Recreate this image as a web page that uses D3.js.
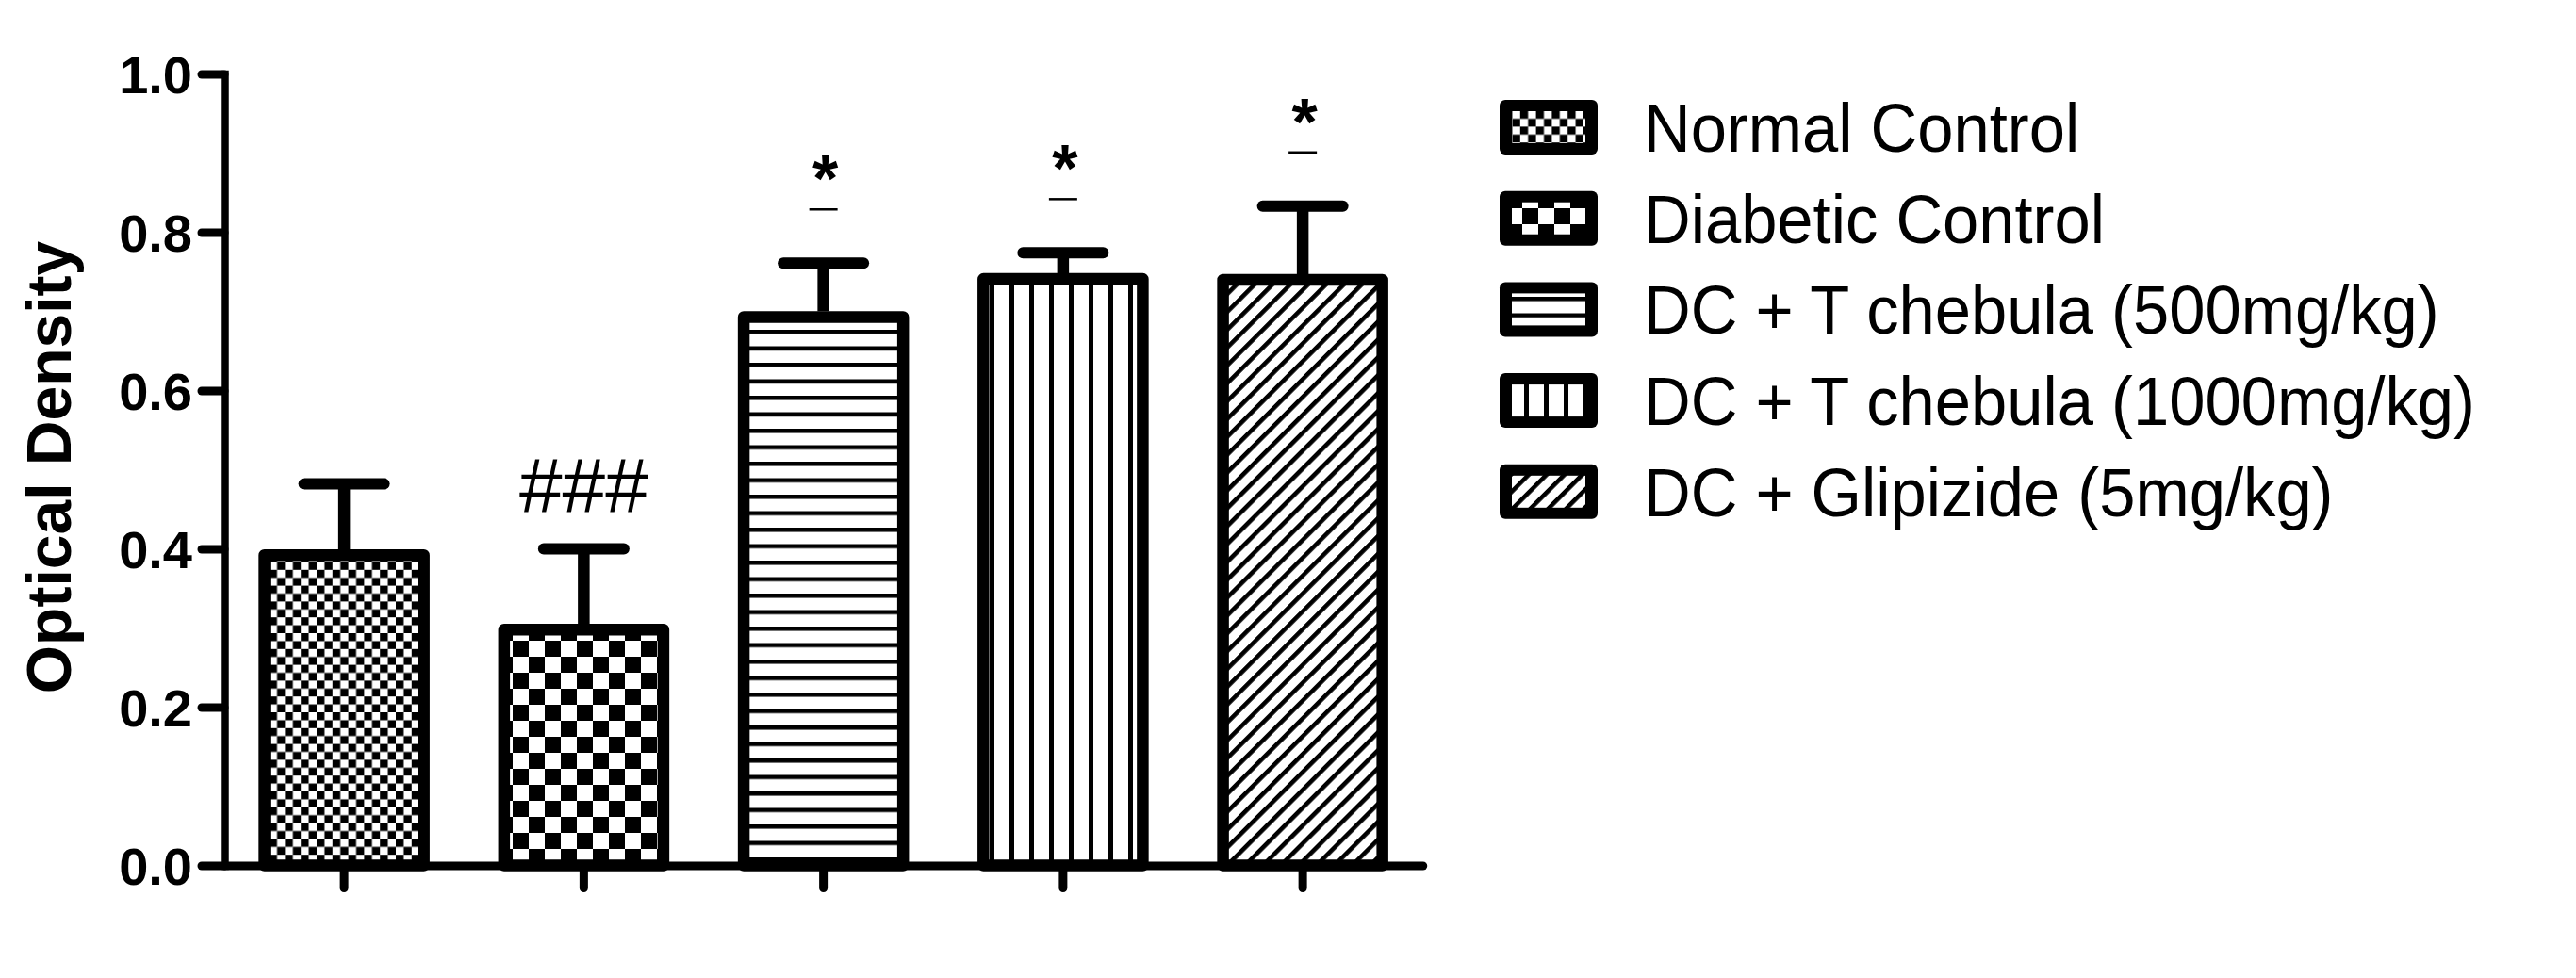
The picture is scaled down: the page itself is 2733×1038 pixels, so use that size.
<!DOCTYPE html>
<html><head><meta charset="utf-8">
<script src="https://cdn.jsdelivr.net/npm/d3@7/dist/d3.min.js"></script>
<style>html,body{margin:0;padding:0;background:#fff;} svg{display:block;}</style>
</head><body>
<svg id="chart" width="2733" height="1038"></svg>
<script>
const categories = ["Normal Control", "Diabetic Control", "DC + T chebula (500mg/kg)", "DC + T chebula (1000mg/kg)", "DC + Glipizide (5mg/kg)"];
const means = [0.392, 0.298, 0.693, 0.741, 0.740];
const errors = [0.090, 0.102, 0.068, 0.033, 0.093];
const significance = ["", "###", "*", "*", "*"];
const yTicks = [0.0, 0.2, 0.4, 0.6, 0.8, 1.0];
const yTitle = "Optical Density";
const patternIds = ["pSmallCheck", "pBigCheck", "pHoriz", "pVert", "pDiag"];

const svg = d3.select("#chart");
svg.append("rect").attr("width", 2733).attr("height", 1038).attr("fill", "#fff");
const font = "'Liberation Sans', Arial, Helvetica, sans-serif";

// patterns
const defs = svg.append("defs");
function pat(id, w, h, draw, transform) {
  const p = defs.append("pattern").attr("id", id).attr("patternUnits", "userSpaceOnUse")
    .attr("width", w).attr("height", h);
  if (transform) p.attr("patternTransform", transform);
  p.append("rect").attr("width", w).attr("height", h).attr("fill", "#fff");
  draw(p);
}
const cs = 8.4;
pat("pSmallCheck", 2 * cs, 2 * cs, p => {
  p.append("rect").attr("x", 0).attr("y", 0).attr("width", cs).attr("height", cs).attr("fill", "#000");
  p.append("rect").attr("x", cs).attr("y", cs).attr("width", cs).attr("height", cs).attr("fill", "#000");
});
const cb = 17;
pat("pBigCheck", 2 * cb, 2 * cb, p => {
  p.append("rect").attr("x", 0).attr("y", 0).attr("width", cb).attr("height", cb).attr("fill", "#000");
  p.append("rect").attr("x", cb).attr("y", cb).attr("width", cb).attr("height", cb).attr("fill", "#000");
});
pat("pHoriz", 10, 17.5, p => {
  p.append("rect").attr("x", 0).attr("y", 0).attr("width", 10).attr("height", 4.5).attr("fill", "#000");
});
pat("pVert", 21, 10, p => {
  p.append("rect").attr("x", 0).attr("y", 0).attr("width", 5).attr("height", 10).attr("fill", "#000");
});
pat("pDiag", 13.4, 10, p => {
  p.append("rect").attr("x", 0).attr("y", 0).attr("width", 4.6).attr("height", 10).attr("fill", "#000");
}, "rotate(45)");

// scales
const x = d3.scaleBand().domain(categories).range([238, 1509.25]).paddingInner(0.335).paddingOuter(0.1675);
const y = d3.scaleLinear().domain([0, 1]).range([918.5, 78.5]);

// bars
const g = svg.append("g");
const bars = g.selectAll(".bar").data(categories).join("g");
bars.append("rect")
  .attr("x", d => x(d)).attr("y", (d, i) => y(means[i]))
  .attr("width", x.bandwidth()).attr("height", (d, i) => y(0) - y(means[i]))
  .attr("fill", (d, i) => `url(#${patternIds[i]})`)
  .attr("stroke", "#000").attr("stroke-width", 12.5).attr("stroke-linejoin", "round");
// error bars
bars.append("line")
  .attr("x1", d => x(d) + x.bandwidth() / 2).attr("x2", d => x(d) + x.bandwidth() / 2)
  .attr("y1", (d, i) => y(means[i]) - 6).attr("y2", (d, i) => y(means[i] + errors[i]))
  .attr("stroke", "#000").attr("stroke-width", 12.5);
bars.append("line")
  .attr("x1", d => x(d) + x.bandwidth() / 2 - 42.5).attr("x2", d => x(d) + x.bandwidth() / 2 + 42.5)
  .attr("y1", (d, i) => y(means[i] + errors[i])).attr("y2", (d, i) => y(means[i] + errors[i]))
  .attr("stroke", "#000").attr("stroke-width", 12).attr("stroke-linecap", "round");

// significance marks
categories.forEach((c, i) => {
  const s = significance[i];
  if (!s) return;
  const cx = x(c) + x.bandwidth() / 2;
  const capY = y(means[i] + errors[i]);
  if (s === "###") {
    svg.append("text").attr("x", cx).attr("y", capY - 40).attr("text-anchor", "middle")
      .attr("font-family", font).attr("font-size", 82).attr("fill", "#000").text(s);
  } else {
    const dashY = capY - 57;
    svg.append("line").attr("x1", cx - 15).attr("x2", cx + 15).attr("y1", dashY).attr("y2", dashY)
      .attr("stroke", "#000").attr("stroke-width", 2.5);
    svg.append("text").attr("x", cx + 2).attr("y", dashY - 8).attr("text-anchor", "middle")
      .attr("font-family", font).attr("font-weight", "bold").attr("font-size", 70).attr("fill", "#000").text(s);
  }
});

// axes
const yAxis = svg.append("g").attr("transform", "translate(238,0)")
  .call(d3.axisLeft(y).tickValues(yTicks).tickSize(24).tickSizeOuter(0).tickPadding(10).tickFormat(d3.format(".1f")));
yAxis.select(".domain").attr("stroke-width", 8.5).attr("stroke-linecap", "square");
yAxis.selectAll(".tick line").attr("stroke-width", 9).attr("stroke-linecap", "round");
yAxis.selectAll(".tick text").attr("font-family", font).attr("font-weight", "bold").attr("font-size", 56)
  .attr("dy", null).attr("dominant-baseline", null).each(function() { d3.select(this).attr("dy", "0.36em"); });

const xAxis = svg.append("g").attr("transform", "translate(0,918.5)")
  .call(d3.axisBottom(x).tickSize(24).tickSizeOuter(0).tickFormat(""));
xAxis.select(".domain").attr("stroke-width", 9).attr("stroke-linecap", "round");
xAxis.selectAll(".tick line").attr("stroke-width", 9).attr("stroke-linecap", "round");
xAxis.selectAll(".tick text").remove();

// y title
svg.append("text").attr("transform", "translate(75,496) rotate(-90)").attr("text-anchor", "middle")
  .attr("font-family", font).attr("font-weight", "bold").attr("font-size", 66).attr("fill", "#000").text(yTitle);

// legend
const leg = svg.append("g");
categories.forEach((c, i) => {
  const top = 106 + i * 96.7;
  leg.append("rect").attr("x", 1591).attr("y", top).attr("width", 104).attr("height", 58).attr("rx", 6).attr("fill", "#000");
  leg.append("rect").attr("x", 1604).attr("y", top + 12).attr("width", 78).attr("height", 34).attr("fill", `url(#${patternIds[i]})`);
  leg.append("text").attr("transform", `translate(1744,${top + 55}) scale(0.955,1)`)
    .attr("font-family", font).attr("font-size", 72).attr("fill", "#000").text(c);
});
</script>
</body></html>
